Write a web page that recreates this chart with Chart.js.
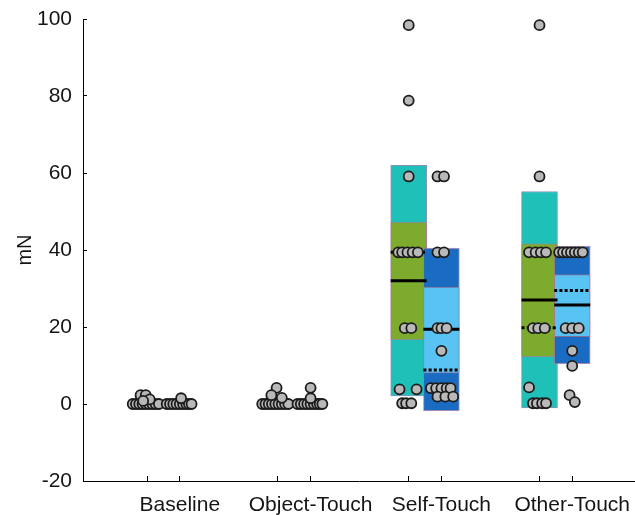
<!DOCTYPE html>
<html>
<head>
<meta charset="utf-8">
<script src="https://cdn.jsdelivr.net/npm/chart.js@4.4.1/dist/chart.umd.min.js"></script>
<style>
  html, body { margin: 0; padding: 0; background: #fff; }
</style>
</head>
<body>
<canvas id="myChart" width="635" height="515"></canvas>
<script>
// categories, and the x position of the left / right group in each
var categories = ['Baseline', 'Object-Touch', 'Self-Touch', 'Other-Touch'];
var groupPos = [1, 1.25, 2, 2.25, 3, 3.25, 4, 4.25];
var yTicks = [-20, 0, 20, 40, 60, 80, 100];

// raw points per group (mN) and their horizontal jitter (x units)
var pointValues = [
    [0, 0, 0, 0, 0, 0, 0, 0, 0, 2.3, 2.3, 1.2, 0.8],
    [0, 0, 0, 0, 0, 0, 0, 0, 0, 1.5],
    [0, 0, 0, 0, 0, 0, 0, 0, 0, 4.2, 1.6, 2.3],
    [0, 0, 0, 0, 0, 0, 0, 0, 0, 4.2, 1.5],
    [98.4, 78.8, 59.1, 39.4, 39.4, 39.4, 39.4, 39.4, 19.7, 19.7, 3.8, 3.8, 0.2, 0.2, 0.2],
    [59.1, 59.1, 39.4, 39.4, 19.7, 19.7, 19.7, 13.8, 4.1, 4.1, 4.1, 4.1, 4.1, 1.9, 1.9, 1.9],
    [98.4, 59.1, 39.4, 39.4, 39.4, 39.4, 19.7, 19.7, 19.7, 4.3, 0.2, 0.2, 0.2, 0.2],
    [39.4, 39.4, 39.4, 39.4, 39.4, 39.4, 39.4, 19.7, 19.7, 19.7, 13.8, 9.9, 2.3, 0.5]
];
var pointJitter = [
    [-0.11, -0.085, -0.06, -0.035, -0.01, 0.015, 0.04, 0.065, 0.09, -0.05, -0.01, 0.02, -0.03],
    [-0.10, -0.075, -0.05, -0.025, 0, 0.025, 0.05, 0.07, 0.09, 0.01],
    [-0.12, -0.095, -0.07, -0.045, -0.02, 0.005, 0.03, 0.055, 0.08, -0.01, 0.03, -0.05],
    [-0.10, -0.075, -0.05, -0.025, 0, 0.025, 0.05, 0.07, 0.09, 0, 0],
    [0, 0, 0, -0.08, -0.05, -0.01, 0.03, 0.07, -0.03, 0.02, -0.07, 0.06, -0.05, -0.02, 0.02],
    [-0.03, 0.02, -0.03, 0.02, -0.03, 0, 0.04, 0, -0.08, -0.04, 0, 0.04, 0.07, -0.03, 0.03, 0.09],
    [0, 0, -0.08, -0.03, 0.01, 0.05, -0.05, -0.01, 0.04, -0.08, -0.05, -0.02, 0.02, 0.05],
    [-0.10, -0.07, -0.04, -0.01, 0.02, 0.05, 0.08, -0.05, 0, 0.05, 0, 0, -0.02, 0.02]
];

// box statistics per group (null = no box drawn)
var sdLow   = [null, null, null, null, 2.1, -1.8, -1.0, 10.4];
var sdHigh  = [null, null, null, null, 62.0, 40.5, 55.2, 41.0];
var ciLow   = [null, null, null, null, 16.7, 8.0, 12.3, 17.5];
var ciHigh  = [null, null, null, null, 47.2, 30.4, 41.6, 33.6];
var means   = [null, null, null, null, 32.0, 19.4, 27.0, 25.7];
var medians = [null, null, null, null, 39.4, 8.8, 19.8, 29.5];

var outerColors = ['#1fc0b8', '#1a6cc2'];
var innerColors = ['#7cab2d', '#58c3f3'];
var boxHalf = 0.1375;
var fontFamily = '"Liberation Sans", Arial, sans-serif';
var textColor = '#151515';

function boxData(side, lo, hi) {
    var out = [];
    groupPos.forEach(function(p, i) {
        if (i % 2 === side && lo[i] !== null) out.push({ x: p, y: [lo[i], hi[i]] });
    });
    return out;
}

function segData(vals) {
    var out = [];
    groupPos.forEach(function(p, i) {
        if (vals[i] === null) return;
        out.push({ x: p - boxHalf, y: vals[i] }, { x: p + boxHalf, y: vals[i] }, { x: p + boxHalf, y: null });
    });
    return out;
}

var points = [];
pointValues.forEach(function(vals, g) {
    vals.forEach(function(v, k) {
        points.push({ x: groupPos[g] + pointJitter[g][k], y: v });
    });
});

function boxSet(side, lo, hi, colors, border, order) {
    return {
        type: 'bar',
        data: boxData(side, lo, hi),
        backgroundColor: colors[side],
        borderColor: border,
        borderWidth: 1,
        borderSkipped: false,
        barThickness: 36,
        grouped: false,
        order: order
    };
}

var ctx = document.getElementById('myChart').getContext('2d');
window.myChart = new Chart(ctx, {
    type: 'bar',
    data: {
        datasets: [
            boxSet(0, sdLow, sdHigh, outerColors, 'rgba(110,120,175,0.8)', 6),
            boxSet(0, ciLow, ciHigh, innerColors, 'rgba(200,110,120,0.6)', 5),
            boxSet(1, sdLow, sdHigh, outerColors, 'rgba(190,110,150,0.7)', 4),
            boxSet(1, ciLow, ciHigh, innerColors, 'rgba(200,110,120,0.6)', 3),
            {
                type: 'line',
                data: segData(means),
                borderColor: '#000',
                borderWidth: 3,
                pointRadius: 0,
                spanGaps: false,
                order: 2
            },
            {
                type: 'line',
                data: segData(medians),
                borderColor: '#000',
                borderWidth: 3,
                borderDash: [3, 2.2],
                pointRadius: 0,
                spanGaps: false,
                order: 1
            },
            {
                type: 'scatter',
                data: points,
                pointRadius: 5,
                pointBorderWidth: 1.8,
                pointBackgroundColor: '#b9b9b9',
                pointBorderColor: '#1c1c1c',
                order: 0
            }
        ]
    },
    options: {
        responsive: false,
        animation: false,
        devicePixelRatio: 1,
        layout: { autoPadding: false, padding: { top: 19, left: 0, right: 0, bottom: 0 } },
        plugins: {
            legend: { display: false },
            tooltip: { enabled: false }
        },
        scales: {
            x: {
                type: 'linear',
                min: 0.51,
                max: 4.73,
                offset: false,
                afterBuildTicks: function(scale) {
                    scale.ticks = groupPos.map(function(v) { return { value: v }; });
                },
                afterFit: function(scale) {
                    scale.height = 34;
                    scale.paddingLeft = 0;
                    scale.paddingRight = 0;
                },
                grid: { display: true, offset: false, drawOnChartArea: false, tickLength: -5, color: '#000' },
                border: { display: true, color: '#000', width: 1 },
                ticks: {
                    autoSkip: false,
                    maxRotation: 0,
                    padding: 17,
                    color: textColor,
                    font: { family: fontFamily, size: 21 },
                    callback: function(value, index) {
                        return index % 2 === 1 ? categories[(index - 1) / 2] : '';
                    }
                }
            },
            y: {
                min: -20,
                max: 100,
                afterBuildTicks: function(scale) {
                    scale.ticks = yTicks.map(function(v) { return { value: v }; });
                },
                afterFit: function(scale) {
                    scale.width = 83;
                    scale.paddingTop = 0;
                    scale.paddingBottom = 0;
                },
                grid: { drawOnChartArea: false, tickLength: -4, color: '#000' },
                border: { display: true, color: '#000', width: 1 },
                ticks: {
                    padding: 15,
                    color: textColor,
                    font: { family: fontFamily, size: 21 }
                },
                title: {
                    display: true,
                    text: 'mN',
                    color: textColor,
                    font: { family: fontFamily, size: 20 },
                    padding: { top: 13, bottom: 0 }
                }
            }
        }
    }
});
</script>
</body>
</html>
